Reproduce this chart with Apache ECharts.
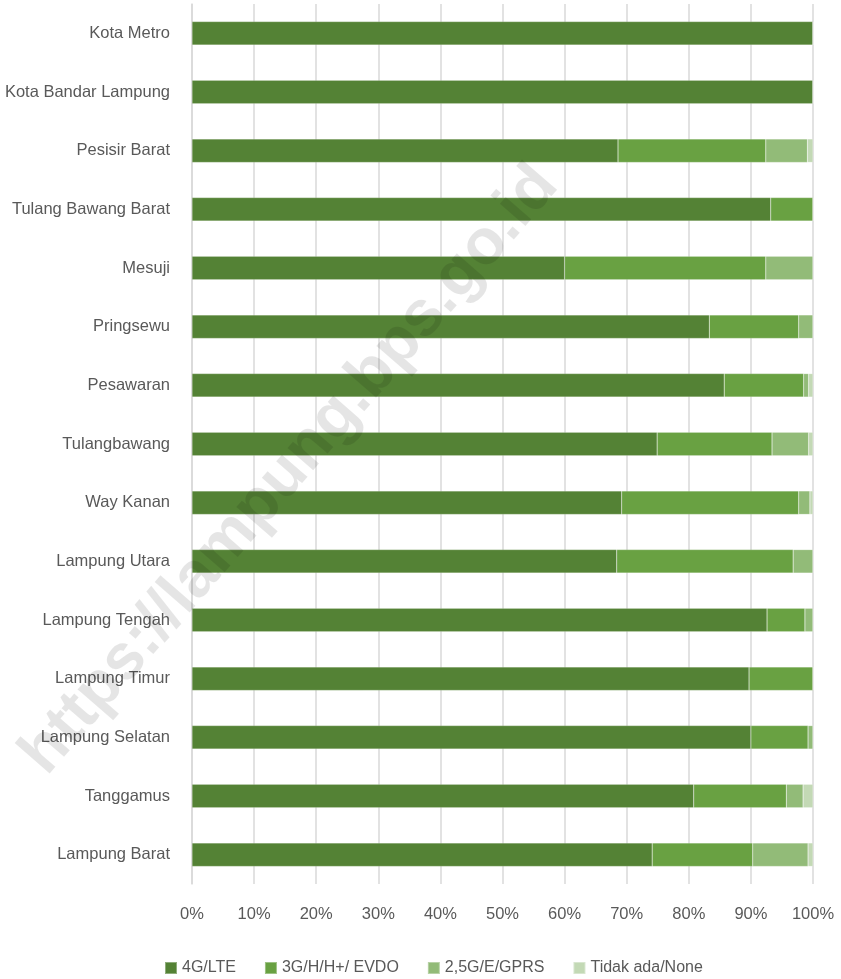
<!DOCTYPE html>
<html>
<head>
<meta charset="utf-8">
<script src="https://cdn.jsdelivr.net/npm/echarts@6/dist/echarts.min.js"></script>
<style>
  html, body { margin: 0; padding: 0; background: #fff; }
  #chart { width: 841px; height: 979px; }
</style>
</head>
<body>
<div id="chart"></div>
<script>
// categories from bottom to top (as drawn)
const kabupaten = ['Lampung Barat', 'Tanggamus', 'Lampung Selatan', 'Lampung Timur', 'Lampung Tengah',
  'Lampung Utara', 'Way Kanan', 'Tulangbawang', 'Pesawaran', 'Pringsewu', 'Mesuji',
  'Tulang Bawang Barat', 'Pesisir Barat', 'Kota Bandar Lampung', 'Kota Metro']

// percentages
const lte   = [74.1, 80.8, 90.0, 89.7, 92.6, 68.4, 69.2, 74.9, 85.7, 83.3, 60.0, 93.2, 68.6, 100, 100]
const g3    = [16.2, 14.9,  9.2, 10.3,  6.1, 28.4, 28.5, 18.5, 12.8, 14.4, 32.4,  6.8, 23.8,   0,   0]
const g25   = [ 8.9,  2.7,  0.8,    0,  1.3,  3.2,  1.8,  5.9,  0.8,  2.3,  7.6,    0,  6.7,   0,   0]
const none  = [ 0.8,  1.6,    0,    0,    0,    0,  0.5,  0.7,  0.7,    0,    0,    0,  0.9,   0,   0]

const seriesNames = ['4G/LTE', '3G/H/H+/ EVDO', '2,5G/E/GPRS', 'Tidak ada/None']
const colors = ['#548235', '#69a142', '#92bb78', '#c3d9b5']
const values = [lte, g3, g25, none]

const FONT = '"Liberation Sans", Arial, sans-serif'

const chart = echarts.init(document.getElementById('chart'), null, { renderer: 'canvas' })

let series = []
for (let i = 0; i < values.length; i++) {
  series.push({
    name: seriesNames[i],
    type: 'bar',
    stack: 'total',
    data: values[i],
    barWidth: '40%',
    itemStyle: { color: colors[i], borderColor: 'rgba(255,255,255,0.35)', borderWidth: 0.5 },
    emphasis: { disabled: true }
  })
}

const option = {
  backgroundColor: '#fff',
  animation: false,
  color: colors,
  grid: { left: 192, right: 28, top: 4, bottom: 95, outerBoundsMode: 'none', containLabel: false },
  xAxis: {
    type: 'value',
    min: 0,
    max: 100,
    interval: 10,
    axisLine: { show: false },
    axisTick: { show: false },
    splitLine: { lineStyle: { color: '#d9d9d9', width: 1.5 } },
    axisLabel: {
      formatter: '{value}%',
      color: '#595959',
      fontFamily: FONT,
      fontSize: 16.5,
      margin: 22
    }
  },
  yAxis: {
    type: 'category',
    data: kabupaten,
    axisLine: { show: true, lineStyle: { color: '#d9d9d9', width: 1.5 } },
    axisTick: { show: false },
    axisLabel: {
      color: '#595959',
      fontFamily: FONT,
      fontSize: 16.5,
      margin: 22
    }
  },
  legend: {
    top: 960,
    left: 164,
    padding: 0,
    itemWidth: 12,
    itemHeight: 12,
    itemGap: 28,
    icon: 'rect',
    textStyle: { color: '#595959', fontFamily: FONT, fontSize: 16 },
    data: seriesNames
  },
  graphic: [{
    type: 'text',
    z: 100,
    x: 290,
    y: 470,
    rotation: 49 * Math.PI / 180,
    style: {
      text: 'https://lampung.bps.go.id',
      fill: 'rgba(0,0,0,0.1)',
      font: 'bold 64px "Liberation Sans", Arial, sans-serif',
      textAlign: 'center',
      textVerticalAlign: 'middle'
    },
    silent: true
  }],
  series: series
}

chart.setOption(option)
</script>
</body>
</html>
